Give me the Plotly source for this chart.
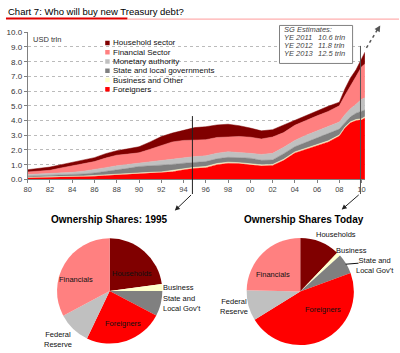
import plotly.graph_objects as go

W, H = 400, 353
def px(x):
    return x / W
def py(y):
    return 1 - y / H

FONT = "Liberation Sans, Arial, sans-serif"

# ---------------- data (USD trln) ----------------
years = [1980, 1981, 1982, 1983, 1984, 1985, 1986, 1987, 1988, 1989,
         1990, 1991, 1992, 1993, 1994, 1995, 1996, 1997, 1998, 1999,
         2000, 2001, 2002, 2003, 2004, 2005, 2006, 2007, 2008,
         2008.5, 2009, 2009.5, 2010, 2010.3]

foreigners = [0.11, 0.12, 0.13, 0.14, 0.15, 0.18, 0.22, 0.27, 0.31, 0.36,
              0.40, 0.42, 0.44, 0.52, 0.66, 0.76, 0.80, 1.00, 1.10, 1.08,
              0.99, 0.92, 0.95, 1.30, 1.80, 2.05, 2.28, 2.55, 2.95,
              3.50, 3.85, 4.00, 4.05, 4.18]
business = [0.04, 0.04, 0.04, 0.04, 0.05, 0.05, 0.05, 0.05, 0.06, 0.06,
            0.06, 0.06, 0.07, 0.07, 0.06, 0.06, 0.08, 0.08, 0.07, 0.06,
            0.07, 0.07, 0.07, 0.07, 0.07, 0.07, 0.07, 0.07, 0.07,
            0.07, 0.07, 0.07, 0.07, 0.07]
state_local = [0.07, 0.08, 0.09, 0.11, 0.11, 0.14, 0.17, 0.21, 0.25, 0.33,
               0.42, 0.44, 0.44, 0.43, 0.38, 0.32, 0.33, 0.32, 0.33, 0.34,
               0.38, 0.31, 0.30, 0.38, 0.35, 0.40, 0.47, 0.48, 0.40,
               0.28, 0.33, 0.43, 0.53, 0.47]
monetary = [0.11, 0.12, 0.14, 0.15, 0.17, 0.19, 0.22, 0.27, 0.31, 0.27,
            0.22, 0.26, 0.31, 0.35, 0.38, 0.41, 0.39, 0.38, 0.38, 0.37,
            0.33, 0.40, 0.45, 0.43, 0.43, 0.48, 0.48, 0.52, 0.48,
            0.55, 0.55, 0.60, 0.80, 0.83]
financial = [0.18, 0.20, 0.22, 0.34, 0.45, 0.50, 0.55, 0.65, 0.72, 0.70,
             0.71, 0.87, 1.06, 1.18, 1.17, 1.13, 1.10, 1.07, 1.03, 1.07,
             1.10, 1.05, 1.11, 1.00, 1.03, 1.02, 1.02, 1.00, 1.10,
             1.30, 1.60, 1.90, 2.20, 2.30]
household = [0.15, 0.18, 0.22, 0.22, 0.22, 0.24, 0.27, 0.30, 0.30, 0.36,
             0.41, 0.50, 0.59, 0.60, 0.70, 0.84, 0.88, 0.85, 0.84, 0.73,
             0.62, 0.55, 0.50, 0.52, 0.38, 0.36, 0.36, 0.35, 0.25,
             0.45, 0.50, 0.45, 0.55, 0.80]

area_names = ["Foreigners", "Business and Other", "State and local governments",
              "Monetary authority", "Financial Sector", "Household sector"]
area_values = [foreigners, business, state_local, monetary, financial, household]
area_colors = ["#FF0000", "#FFFFCC", "#808080", "#C0C0C0", "#FF8080", "#800000"]

x_tick_years = list(range(1980, 2011, 2))
x_tick_labels = ["80", "82", "84", "86", "88", "90", "92", "94", "96", "98",
                 "00", "02", "04", "06", "08", "10"]
y_tick_vals = list(range(0, 11))
y_tick_labels = ["0.0", "1.0", "2.0", "3.0", "4.0", "5.0", "6.0", "7.0", "8.0", "9.0", "10.0"]

pie_labels = ["Households", "Business", "State and Local Gov't", "Foreigners",
              "Federal Reserve", "Financials"]
pie_colors = ["#800000", "#FFFFCC", "#808080", "#FF0000", "#C0C0C0", "#FF8080"]
shares_1995 = [22.9, 2.1, 7.7, 24.4, 10.1, 32.8]
shares_today = [12.1, 1.2, 6.1, 46.8, 9.2, 24.6]

estimate_years = ["YE 2011", "YE 2012", "YE 2013"]
estimate_values = ["10.6 trln", "11.8 trln", "12.5 trln"]

# ---------------- figure ----------------
fig = go.Figure()

for name, vals, col in zip(area_names, area_values, area_colors):
    fig.add_trace(go.Scatter(
        x=years, y=vals, name=name, stackgroup="one", mode="lines",
        line=dict(width=0.5, color=col), fillcolor=col, showlegend=False,
        hoverinfo="x+y+name"))

fig.add_trace(go.Pie(
    values=shares_1995, labels=pie_labels, sort=False, direction="clockwise",
    rotation=0, textinfo="none", showlegend=False,
    marker=dict(colors=pie_colors, line=dict(width=0)),
    domain=dict(x=[px(53), px(161)], y=[py(348.5), py(240.5)])))
fig.add_trace(go.Pie(
    values=shares_today, labels=pie_labels, sort=False, direction="clockwise",
    rotation=0, textinfo="none", showlegend=False,
    marker=dict(colors=pie_colors, line=dict(width=0)),
    domain=dict(x=[px(245), px(355)], y=[py(350), py(240)])))

shapes = []
annotations = []

# Title and underline
annotations.append(dict(x=px(2), y=py(7.5), xref="paper", yref="paper", xanchor="left",
                        yanchor="middle", showarrow=False,
                        text="Chart 7: Who will buy new Treasury debt?",
                        font=dict(family=FONT, size=9.5, color="#000000")))
shapes.append(dict(type="line", xref="paper", yref="paper", x0=px(2), x1=px(125),
                   y0=py(15), y1=py(15), line=dict(color="#E00000", width=2)))
shapes.append(dict(type="line", xref="paper", yref="paper", x0=px(125), x1=px(400),
                   y0=py(15.5), y1=py(15.5), line=dict(color="#FF9A9A", width=1)))

# Unit label
annotations.append(dict(x=px(27), y=py(36.5), xref="paper", yref="paper", xanchor="left",
                        yanchor="middle", showarrow=False, text="USD trln",
                        font=dict(family=FONT, size=7.5, color="#333333")))

# Legend (top to bottom)
for i, (name, col) in enumerate(zip(area_names[::-1], area_colors[::-1])):
    yc = 40 + 9.5 * i
    shapes.append(dict(type="rect", xref="paper", yref="paper",
                       x0=px(102.5), x1=px(107), y0=py(yc + 2.3), y1=py(yc - 2.3),
                       fillcolor=col, line=dict(width=0), layer="above"))
    annotations.append(dict(x=px(108), y=py(yc), xref="paper", yref="paper",
                            xanchor="left", yanchor="middle", showarrow=False, text=name,
                            font=dict(family=FONT, size=8, color="#111111")))

# SG estimates box
shapes.append(dict(type="rect", xref="paper", yref="paper", x0=px(279), x1=px(353),
                   y0=py(61), y1=py(22), fillcolor="white",
                   line=dict(color="#808080", width=1), layer="above"))
annotations.append(dict(x=px(282), y=py(26.5), xref="paper", yref="paper", xanchor="left",
                        yanchor="middle", showarrow=False, text="<i>SG Estimates:</i>",
                        font=dict(family=FONT, size=7.5, color="#444444")))
for i, (ey, ev) in enumerate(zip(estimate_years, estimate_values)):
    yc = 34.5 + 8 * i
    annotations.append(dict(x=px(282), y=py(yc), xref="paper", yref="paper", xanchor="left",
                            yanchor="middle", showarrow=False, text="<i>" + ey + "</i>",
                            font=dict(family=FONT, size=7.5, color="#444444")))
    annotations.append(dict(x=px(347), y=py(yc), xref="paper", yref="paper", xanchor="right",
                            yanchor="middle", showarrow=False, text="<i>" + ev + "</i>",
                            font=dict(family=FONT, size=7.5, color="#444444")))

# Vertical markers and arrows
shapes.append(dict(type="line", xref="x", yref="paper", x0=1994.8, x1=1994.8,
                   y0=py(195), y1=py(115), line=dict(color="#222222", width=1), layer="above"))
shapes.append(dict(type="line", xref="x", yref="paper", x0=2009.9, x1=2009.9,
                   y0=py(195), y1=py(43), line=dict(color="#555555", width=1), layer="above"))
annotations.append(dict(x=px(173), y=py(212), xref="paper", yref="paper", text="",
                        showarrow=True, arrowhead=2, arrowsize=1, arrowwidth=1,
                        arrowcolor="#222222", ax=17.7, ay=-17))
annotations.append(dict(x=px(342), y=py(211), xref="paper", yref="paper", text="",
                        showarrow=True, arrowhead=2, arrowsize=1, arrowwidth=1,
                        arrowcolor="#222222", ax=18.5, ay=-16))
shapes.append(dict(type="line", xref="paper", yref="paper", x0=px(367), x1=px(379),
                   y0=py(45), y1=py(25), line=dict(color="#555555", width=1.5, dash="dot"),
                   layer="above"))
annotations.append(dict(x=px(381), y=py(22), xref="paper", yref="paper", text="",
                        showarrow=True, arrowhead=2, arrowsize=1, arrowwidth=1.2,
                        arrowcolor="#555555", ax=-3, ay=5))

# Pie titles
annotations.append(dict(x=px(106.5), y=py(221), xref="paper", yref="paper", xanchor="center",
                        yanchor="middle", showarrow=False, text="<b>Ownership Shares: 1995</b>",
                        font=dict(family=FONT, size=10, color="#000000")))
annotations.append(dict(x=px(304), y=py(221), xref="paper", yref="paper", xanchor="center",
                        yanchor="middle", showarrow=False, text="<b>Ownership Shares Today</b>",
                        font=dict(family=FONT, size=10, color="#000000")))

def lab(x, y, text, anchor="center"):
    annotations.append(dict(x=px(x), y=py(y), xref="paper", yref="paper", xanchor=anchor,
                            yanchor="middle", showarrow=False, text=text, align=anchor,
                            font=dict(family=FONT, size=7.5, color="#111111")))

# 1995 pie labels
lab(130, 277, "Households")
lab(73, 283, "Financials")
lab(159, 291, "Business", "left")
lab(159, 307, "State and<br>Local Gov't", "left")
lab(121, 328, "Foreigners")
lab(55, 344, "Federal<br>Reserve")

# Today pie labels
lab(336, 237, "Households")
lab(352, 253, "Business")
lab(376, 268, "State and<br>Local Gov't")
lab(272, 278, "Financials")
lab(233, 310, "Federal<br>Reserve")
lab(323, 314, "Foreigners")
shapes.append(dict(type="line", xref="paper", yref="paper", x0=px(346), x1=px(359),
                   y0=py(267), y1=py(266), line=dict(color="#111111", width=1)))

fig.update_layout(
    width=W, height=H, margin=dict(l=0, r=0, t=0, b=0),
    paper_bgcolor="white", plot_bgcolor="white", showlegend=False,
    font=dict(family=FONT, size=8, color="#333333"),
    xaxis=dict(domain=[px(24), px(365.5)], range=[1980, 2010.3],
               tickvals=x_tick_years, ticktext=x_tick_labels,
               ticks="outside", ticklen=3, tickcolor="#808080",
               showline=True, linecolor="#808080", linewidth=1,
               showgrid=False, zeroline=False,
               tickfont=dict(family=FONT, size=7.5, color="#444444")),
    yaxis=dict(domain=[py(180), py(29)], range=[0, 10],
               tickvals=y_tick_vals, ticktext=y_tick_labels,
               ticks="outside", ticklen=3, tickcolor="#808080",
               showline=True, linecolor="#808080", linewidth=1,
               showgrid=True, gridcolor="#BBBBBB", griddash="dot", gridwidth=1,
               zeroline=False,
               tickfont=dict(family=FONT, size=8, color="#333333")),
    shapes=shapes, annotations=annotations)

fig.write_html("out.html")
